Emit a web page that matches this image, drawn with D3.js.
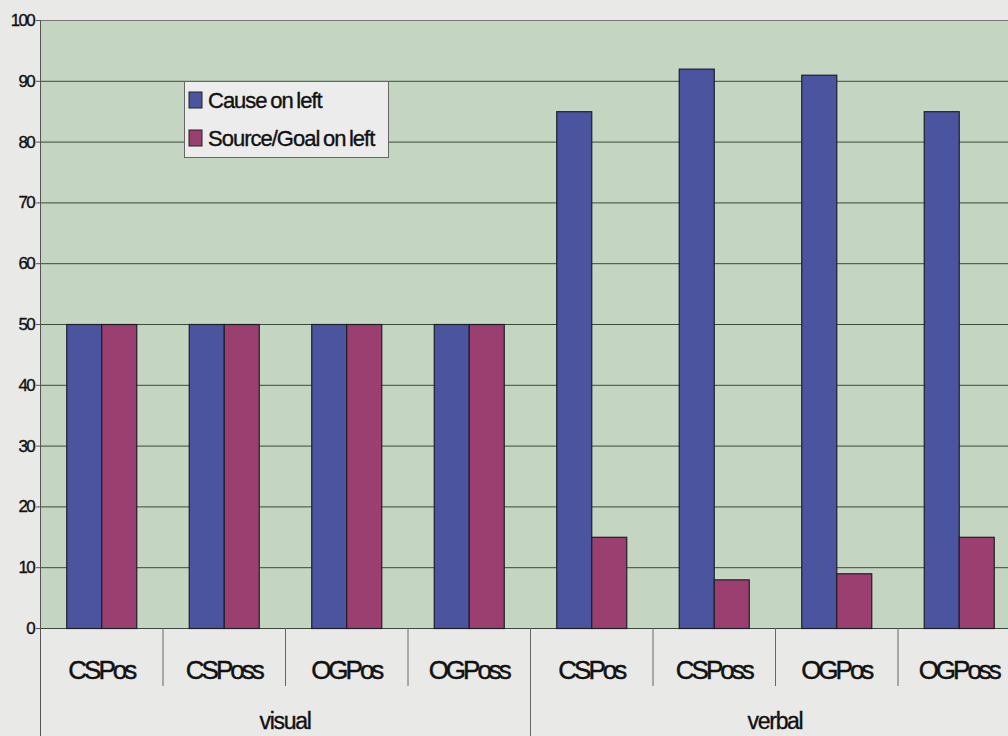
<!DOCTYPE html>
<html>
<head>
<meta charset="utf-8">
<script src="https://cdn.jsdelivr.net/npm/d3@7"></script>
<style>
  body { margin: 0; background: #e9e9e8; }
  svg { display: block; font-family: "Liberation Sans", Arial, sans-serif; }
</style>
</head>
<body>
<div id="chart"></div>
<script>
// data
var groups = ["visual", "verbal"];
var conditions = ["CSPos", "CSPoss", "OGPos", "OGPoss"];
var series = ["Cause on left", "Source/Goal on left"];
var causeLeft = [50, 50, 50, 50, 85, 92, 91, 85];
var sourceGoalLeft = [50, 50, 50, 50, 15, 8, 9, 15];
var yTicks = [0, 10, 20, 30, 40, 50, 60, 70, 80, 90, 100];
var colors = ["#4b559f", "#9b3f71"];

var width = 1008, height = 736;
var plotLeft = 40, plotTop = 20, plotBottom = 628;
var bandW = 122.5;

var cats = [];
groups.forEach(function(g) {
  conditions.forEach(function(c) { cats.push({group: g, cond: c, key: g + "|" + c}); });
});
var rows = cats.map(function(c, i) {
  return {key: c.key, cond: c.cond, values: [causeLeft[i], sourceGoalLeft[i]]};
});

var svg = d3.select('#chart')
  .append('svg')
  .attr('width', width)
  .attr('height', height);

var x = d3.scaleBand()
  .domain(cats.map(function(d) { return d.key; }))
  .range([plotLeft, plotLeft + bandW * cats.length])
  .padding(0);

// excel gap width 75%
var gap = x.bandwidth() * 0.75 / 1.75;
var x1 = d3.scaleBand()
  .domain(series)
  .range([gap / 2, x.bandwidth() - gap / 2]);

var y = d3.scaleLinear()
  .domain([0, 100])
  .range([plotBottom, plotTop]);

var plotRight = x.range()[1];

// plot background
svg.append('rect')
  .attr('x', plotLeft)
  .attr('y', y(100))
  .attr('width', plotRight - plotLeft)
  .attr('height', y(0) - y(100))
  .attr('fill', '#c4d6c1');

// gridlines
svg.append('g')
  .selectAll('line')
  .data(yTicks)
  .enter()
  .append('line')
  .attr('x1', plotLeft)
  .attr('x2', plotRight)
  .attr('y1', function(d) { return y(d) + 0.5; })
  .attr('y2', function(d) { return y(d) + 0.5; })
  .attr('stroke', function(d) { return d === 100 ? '#777' : '#3a4a3a'; })
  .attr('stroke-width', 1);

// bars
var grp = svg.append('g')
  .selectAll('g')
  .data(rows)
  .enter()
  .append('g')
  .attr('transform', function(d) { return 'translate(' + x(d.key) + ',0)'; });

grp.selectAll('rect')
  .data(function(d) { return d.values.map(function(v, i) { return {s: series[i], v: v, i: i}; }); })
  .enter()
  .append('rect')
  .attr('x', function(d) { return x1(d.s) + 0.5; })
  .attr('y', function(d) { return y(d.v) + 0.5; })
  .attr('width', x1.bandwidth())
  .attr('height', function(d) { return y(0) - y(d.v); })
  .attr('fill', function(d) { return colors[d.i]; })
  .attr('stroke', '#1e1e28')
  .attr('stroke-width', 1.2);

// y axis line
svg.append('line')
  .attr('x1', plotLeft + 0.5).attr('x2', plotLeft + 0.5)
  .attr('y1', y(100)).attr('y2', height)
  .attr('stroke', '#555');

// y tick marks and labels
var yAxis = svg.append('g');
yAxis.selectAll('line')
  .data(yTicks)
  .enter()
  .append('line')
  .attr('x1', plotLeft - 4).attr('x2', plotLeft)
  .attr('y1', function(d) { return y(d) + 0.5; })
  .attr('y2', function(d) { return y(d) + 0.5; })
  .attr('stroke', '#555');
yAxis.selectAll('text')
  .data(yTicks)
  .enter()
  .append('text')
  .attr('x', 34)
  .attr('y', function(d) { return y(d) + 6; })
  .attr('text-anchor', 'end')
  .attr('font-size', 17)
  .attr('letter-spacing', -1.7)
  .attr('fill', '#111')
  .attr('stroke', '#111')
  .attr('stroke-width', 0.35)
  .text(function(d) { return d; });

// category boundaries
svg.append('g')
  .selectAll('line')
  .data(cats.slice(1))
  .enter()
  .append('line')
  .attr('x1', function(d) { return x(d.key) + 0.5; })
  .attr('x2', function(d) { return x(d.key) + 0.5; })
  .attr('y1', plotBottom)
  .attr('y2', function(d) { return d.cond === conditions[0] ? height : 686; })
  .attr('stroke', '#666');

// category labels
svg.append('g')
  .selectAll('text')
  .data(rows)
  .enter()
  .append('text')
  .attr('x', function(d) { return x(d.key) + x.bandwidth() / 2; })
  .attr('y', 679)
  .attr('text-anchor', 'middle')
  .attr('font-size', 26)
  .attr('letter-spacing', -3)
  .attr('fill', '#111')
  .attr('stroke', '#111')
  .attr('stroke-width', 0.45)
  .text(function(d) { return d.cond; });

// group labels
svg.append('g')
  .selectAll('text')
  .data(groups)
  .enter()
  .append('text')
  .attr('x', function(g) {
    return x(g + "|" + conditions[0]) + x.bandwidth() * conditions.length / 2;
  })
  .attr('y', 729)
  .attr('text-anchor', 'middle')
  .attr('font-size', 23)
  .attr('letter-spacing', -1.3)
  .attr('fill', '#111')
  .attr('stroke', '#111')
  .attr('stroke-width', 0.35)
  .text(function(g) { return g; });

// legend
var legend = svg.append('g').attr('transform', 'translate(184,81)');
legend.append('rect')
  .attr('x', 0.5).attr('y', 0.5)
  .attr('width', 204).attr('height', 76)
  .attr('fill', '#ececec')
  .attr('stroke', '#666');
var li = legend.selectAll('g.item')
  .data(series)
  .enter()
  .append('g')
  .attr('class', 'item')
  .attr('transform', function(d, i) { return 'translate(5,' + (11 + i * 38) + ')'; });
li.append('rect')
  .attr('width', 13).attr('height', 16)
  .attr('fill', function(d, i) { return colors[i]; })
  .attr('stroke', '#222');
li.append('text')
  .attr('x', 19)
  .attr('y', 16)
  .attr('font-size', 22)
  .attr('letter-spacing', -1)
  .attr('word-spacing', -1.5)
  .attr('fill', '#111')
  .attr('stroke', '#111')
  .attr('stroke-width', 0.35)
  .text(function(d) { return d; });
</script>
</body>
</html>
